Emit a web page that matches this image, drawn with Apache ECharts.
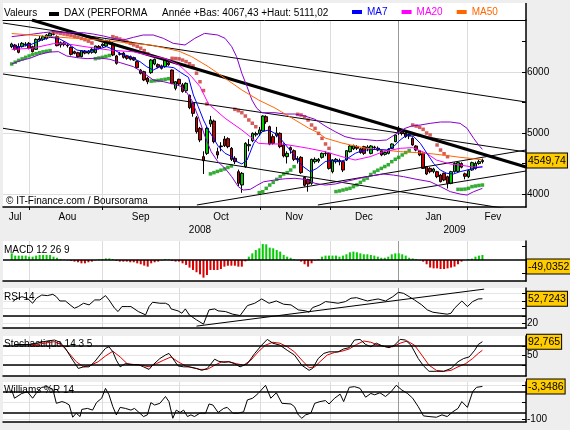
<!DOCTYPE html>
<html>
<head>
<meta charset="utf-8">
<script src="https://cdn.jsdelivr.net/npm/echarts@6/dist/echarts.min.js"></script>
<style>
html, body { margin: 0; padding: 0; background: #eeeeee; }
#chart { width: 570px; height: 430px; }
</style>
</head>
<body>
<div id="chart"></div>
<script>
// trading-day slots: 0..149, first candle on slot 2
const firstSlot = 2;
const candleOpen = [6415,6442,6415,6415,6448,6470,6415,6371,6524,6535,6551,6590,6623,6579,6442,6476,6440,6404,6333,6317,
  6251,6344,6310,6322,6317,6420,6430,6426,6497,6470,6262,6290,6310,6262,6251,6235,6170,6032,6005,5900,
  5989,6131,6120,6100,6087,6150,6032,5732,5880,5790,5694,5617,5486,5250,5076,4612,4666,5147,5196,4694,
  4787,4901,4907,4748,4585,4366,4148,4448,4790,4874,4970,4990,5032,5267,5103,4940,4960,4994,4803,4612,
  4760,4710,4560,4601,4273,4240,4175,4530,4540,4601,4660,4666,4366,4530,4550,4530,4557,4694,4740,4780,
  4740,4776,4750,4666,4770,4750,4710,4650,4666,4748,4858,5049,5021,4994,4950,4912,4787,4710,4666,4448,
  4420,4370,4366,4311,4339,4284,4175,4366,4370,4500,4330,4284,4393,4420,4500,4530];
const candleClose = [6459,6371,6322,6470,6459,6388,6333,6535,6545,6579,6606,6633,6617,6431,6480,6448,6430,6289,6306,6251,
  6349,6310,6344,6371,6426,6390,6455,6513,6470,6278,6142,6300,6240,6224,6210,6196,6070,5978,5869,5840,
  6196,6207,6080,6060,6196,6120,5814,5841,5803,5680,5814,5415,5322,5021,4885,4546,5076,5213,4858,4640,
  4776,4792,4776,4568,4530,4175,4339,4830,4810,4994,4990,5050,5278,5185,4819,4830,5000,4776,4623,4666,
  4721,4568,4580,4350,4142,4164,4568,4568,4568,4666,4670,4420,4557,4568,4530,4393,4710,4787,4790,4750,
  4680,4666,4770,4787,4760,4720,4640,4680,4732,4820,4967,5021,4994,4940,4960,4803,4721,4639,4420,4328,
  4366,4410,4284,4202,4229,4175,4366,4502,4514,4440,4290,4382,4514,4502,4530,4549.74];
const candleLow = [6390,6350,6306,6400,6420,6370,6320,6360,6500,6510,6530,6570,6600,6420,6400,6420,6400,6270,6290,6230,
  6240,6290,6290,6300,6300,6370,6410,6410,6450,6260,6120,6270,6220,6200,6190,6180,6050,5960,5850,5800,
  5970,6110,6060,6040,6070,6100,5800,5700,5780,5660,5660,5390,5267,4990,4850,4328,4640,5100,4830,4580,
  4700,4770,4750,4540,4490,4130,4020,4430,4700,4850,4940,4950,5020,5150,4800,4810,4930,4750,4600,4500,
  4660,4540,4500,4330,4120,4038,4150,4500,4510,4580,4620,4400,4339,4500,4470,4360,4540,4680,4720,4720,
  4660,4640,4700,4650,4730,4700,4620,4630,4650,4740,4850,4967,4960,4920,4900,4790,4700,4620,4410,4310,
  4340,4340,4260,4190,4210,4090,4160,4350,4350,4420,4240,4260,4380,4400,4480,4500];
const candleHigh = [6480,6460,6470,6490,6490,6490,6430,6550,6590,6600,6620,6650,6650,6600,6500,6500,6470,6420,6350,6330,
  6360,6360,6360,6390,6430,6440,6470,6530,6520,6490,6280,6330,6330,6280,6270,6250,6190,6050,6020,5920,
  6210,6220,6140,6120,6210,6170,6040,5850,5890,5820,5830,5630,5500,5280,5100,4700,5100,5280,5220,4760,
  4850,4950,4930,4770,4620,4400,4360,4850,4900,5010,5020,5100,5290,5290,5120,4980,5100,5010,4830,4700,
  4780,4730,4620,4620,4290,4250,4580,4600,4590,4680,4700,4680,4570,4590,4580,4540,4720,4800,4810,4800,
  4760,4790,4800,4800,4790,4780,4720,4700,4750,4830,4980,5114,5060,5010,4990,4930,4800,4720,4680,4460,
  4440,4430,4380,4330,4350,4300,4380,4520,4530,4520,4350,4400,4530,4530,4560,4580];

const ma7 = [[2,6426],[4.4,6415],[7.2,6442],[10.1,6513],[13,6568],[15.4,6551],[17.8,6480],[20.7,6360],[23.6,6333],
  [26.4,6371],[29.2,6415],[31.1,6371],[33.1,6306],[35.9,6251],[38.8,6169],[40.7,6087],[42.6,6032],[44.5,6087],
  [46.4,6087],[48.5,6070],[50.5,5990],[52.7,5912],[54.1,5623],[55.5,5431],[57,5213],[58.4,5049],[59.9,4912],
  [61.3,4776],[63.2,4666],[65.2,4612],[66.6,4530],[68,4492],[69.5,4557],[71.4,4830],[73.8,5021],[75.7,5049],
  [77.5,4994],[79.4,4885],[81.4,4748],[83.2,4612],[85.6,4448],[87.6,4366],[89.5,4420],[91.9,4530],[93.8,4557],
  [95.7,4530],[97.6,4557],[100.5,4666],[102,4700],[103.8,4721],[106.7,4732],[109.5,4721],[111.5,4776],
  [113.4,4885],[115.3,4967],[117.3,4940],[119.2,4830],[121.1,4666],[123,4502],[124.9,4393],[126.8,4339],
  [128.7,4328],[130.6,4366],[132.6,4393],[134.5,4420],[137,4450]];
const ma20 = [[2,6370],[8,6390],[14,6465],[18,6460],[23,6415],[30,6360],[37,6330],[42,6265],[46,6220],[50,6115],
  [53.6,5923],[56,5760],[58.4,5480],[63.2,5241],[68,5049],[72.8,4831],[75.7,4820],[79.6,4820],[83.2,4787],
  [87.1,4749],[91.9,4694],[96.7,4612],[100.5,4557],[104.8,4612],[108.6,4694],[113.4,4749],[117,4760],
  [121,4666],[123.8,4557],[127.8,4492],[130.6,4475],[133.5,4448],[137,4437]];
const ma50 = [[2,6630],[13,6580],[27,6525],[42,6440],[50,6340],[53.6,6251],[58.4,6087],[63.2,5896],[68,5705],
  [72.8,5541],[77.5,5410],[82.3,5246],[87.1,5082],[90,5000],[91.9,4918],[96.7,4836],[100.5,4787],[103.8,4749],
  [108.6,4721],[113.4,4694],[118.2,4678],[123,4656],[127.8,4623],[130.6,4601],[133.5,4585],[137,4560]];
const bandUpper = [[2,6579],[4.4,6595],[8.2,6622],[11.1,6644],[14,6661],[17.8,6644],[22.5,6644],[25.4,6622],
  [28.3,6590],[31.1,6551],[34,6524],[36.9,6568],[39.7,6606],[42.6,6606],[45.5,6551],[48.3,6470],[51.7,6442],
  [54.5,6551],[57.3,6633],[61.1,6606],[63.2,6551],[65.1,6415],[66.5,6251],[68,5978],[69.5,5759],[70.9,5541],
  [72.3,5404],[73.8,5333],[77.5,5333],[80.4,5311],[83.2,5311],[86.1,5278],[89,5224],[91.9,5114],[94.8,5021],
  [97.6,4940],[100.5,4902],[102.8,4896],[106.7,4874],[109.5,4885],[112.5,4994],[114.8,5076],[116.7,5114],
  [119.2,5131],[122,5158],[125,5180],[127.8,5180],[130.6,5158],[132.6,5076],[134.5,4912],[135.9,4803],[137,4732]];
const bandLower = [[2,6131],[4.4,6185],[7.2,6224],[10.1,6289],[13,6327],[15.4,6333],[17.8,6262],[20.7,6235],
  [23.6,6218],[27.3,6229],[30.2,6207],[33.1,6153],[36.9,6087],[39.7,5989],[42.6,5869],[45.5,5841],[48.3,5803],
  [50.3,5770],[51.7,5705],[53.6,5541],[55.5,5267],[57.3,4967],[59.2,4694],[61.1,4530],[63.2,4420],[65.1,4284],
  [67,4120],[68.4,4065],[70.4,4076],[72.3,4140],[74.2,4200],[77.5,4230],[80.4,4250],[83.2,4257],[86.1,4240],
  [89,4175],[91.9,4147],[94.8,4164],[97.6,4202],[100.5,4240],[103.8,4284],[108.6,4328],[111.5,4310],
  [114.4,4284],[118.2,4240],[122,4202],[125,4120],[127.8,4038],[130.6,3999],[132.6,3983],[134.5,4038],[137,4093]];

const sarRed = [[14,6650],[15,6644],[16,6633],[17,6622],[18,6611],[19,6600],[20,6585],[21,6570],[22,6550],[23,6530],[24,6505],[25,6475],
  [31,6579],[32,6560],[33,6540],[34,6518],[35,6495],[36,6470],[37,6445],[38,6420],[39,6390],[40,6350],[41,6300],
  [48,6224],[49,6220],[50,6215],[51,6195],[52,6170],[53,6135],[54,6100],[55,5980],[56,5840],[57,5695],[58,5475],
  [66,5388],[67,5366],[68,5333],[69,5278],[70,5213],[71,5160],[72,5103],
  [84,5306],[85,5295],[86,5267],[87,5213],[88,5131],[89,5076],[90,4994],[91,4912],[92,4820],[93,4748],
  [117,5131],[118,5114],[119,5093],[120,5060],[121,5000],[122,4967],[123,4896],[124,4803],[125,4721],[126,4660],[127,4612]];
const sarGreen = [[2,6131],[3,6160],[4,6190],[5,6215],[6,6240],[7,6262],[8,6285],[9,6300],[10,6315],[11,6330],[12,6340],[13,6350],
  [26,6218],[27,6229],[28,6240],[29,6255],[30,6270],
  [42,5850],[43,5855],[44,5862],[45,5870],[46,5880],[47,5890],
  [59,4330],[60,4350],[61,4370],[62,4390],[63,4410],[64,4435],[65,4460],
  [73,4022],[74,4038],[75,4093],[76,4147],[77,4191],[78,4240],[79,4284],[80,4328],[81,4350],[82,4393],[83,4448],
  [95,4040],[96,4050],[97,4065],[98,4080],[99,4093],[100,4120],[101,4150],[102,4190],[103,4230],[104,4260],[105,4320],
  [106,4360],[107,4390],[108,4420],[109,4450],[110,4480],[111,4530],[112,4570],[113,4600],[114,4640],[115,4680],[116,4710],
  [130,4076],[131,4076],[132,4080],[133,4093],[134,4120],[135,4131],[136,4140],[137,4147]];

const trendThin = [
  [[-0.5,6803],[149.5,5508]],
  [[-0.5,5967],[149.5,4689]],
  [[-0.5,5077],[149.5,3708]],
  [[55.1,3820],[149.5,4721]],
  [[89.8,3820],[149.5,4377]]
];
const trendThick = [[7.8,6852],[149.5,4443]];

const macdHist = [50,33,33,33,33,25,25,33,38,38,38,38,25,17,7,3,-3,-7,-12,-17,
  -25,-25,-17,-12,-3,5,7,12,12,7,-7,-12,-12,-12,-17,-17,-25,-32,-42,-50,
  -25,-17,-12,-3,7,5,-7,-12,-12,-25,-37,-57,-75,-92,-108,-133,-113,-75,-75,-75,
  -68,-50,-43,-43,-43,-50,-50,-10,25,50,75,88,120,118,93,88,75,63,38,25,
  17,7,-3,-12,-32,-50,-25,-3,7,25,33,33,33,33,25,33,43,58,63,58,
  50,43,43,38,33,25,17,17,25,43,50,50,43,33,17,12,7,-3,-12,-32,
  -57,-63,-63,-68,-68,-63,-57,-50,-32,-12,0,7,10,25,33,38];

const rsi = [[2.3,49],[3.3,52.5],[4.9,55.5],[6.5,53.4],[8,46.8],[9.1,53.4],[10.6,57.7],[12.2,56.9],[13.8,58.6],[14.8,55.5],
  [15.8,49.8],[17.4,49.8],[19,43.7],[20,40.2],[21.1,42.4],[22.6,46.8],[24.2,44.6],[25.8,51.2],[27.3,51.2],[28.9,56.9],
  [29.9,51.2],[31.5,40.2],[32.5,35.8],[33.6,42.4],[35.1,42.4],[36.2,42.4],[38.3,35.8],[40.4,31.4],[41.4,42.4],[42.4,48.1],
  [44.5,46.8],[46.1,46.8],[47.1,44.6],[47.7,39.3],[49.7,36.7],[50.8,33.6],[51.8,39.3],[52.9,31.4],[55,24.8],[57,19.1],
  [58.6,38],[60.2,39.3],[61.2,36.7],[63.3,35.8],[65.4,32.3],[67.5,30.5],[69.6,43.7],[71.7,46.8],[73.7,52.5],[75.8,46.8],
  [77.9,49.8],[80,45.5],[82.1,44.6],[84.2,38],[86.3,36.7],[87.3,34.9],[88.3,41.1],[90.4,44.6],[92,49],[93.6,48.1],
  [95.6,46.8],[97.7,49],[99.3,53.4],[100.9,54.2],[103,51.2],[104,49.8],[105.5,51.2],[107.1,52.5],[109.2,49.8],[111.3,55.5],
  [112.9,61.3],[114.4,59.9],[116,55.5],[117.5,51.2],[119.6,44.6],[121.2,38],[122.8,34.9],[124.8,33.6],[126.9,32.3],[128,33.6],
  [129,40.2],[131.1,49.8],[132.7,42.4],[134.2,49],[135.8,52.5],[137,52.72]];
const rsiTrend = [[55,16.5],[137.5,65.5]];

const stochK = [[2.8,84],[7,84],[9.1,88],[12.2,95],[14.3,98],[15.8,91],[17.4,72],[19.5,35],[21.1,9],[22.6,14],[24.2,14],
  [25.8,30],[27.3,51],[28.9,72],[29.9,77],[31,61],[32,35],[33.1,14],[34.6,24],[36.2,21],[38.3,21],[39.8,14],[41.4,6],
  [42.4,19],[44.5,40],[46.1,51],[47.1,56],[48.2,40],[49.7,17],[51.3,14],[52.9,14],[55,9],[56.5,3],[58.1,9],[60.2,38],
  [61.2,32],[62.8,28],[64.3,30],[65.9,24],[67.5,14],[69.6,24],[71.7,56],[73.7,82],[75.3,100],[76.9,88],[78.9,82],
  [81,66],[83.1,51],[85.2,19],[87.3,3],[88.3,9],[89.9,40],[91.5,56],[93,61],[95.6,61],[97.2,70],[98.8,74],[100.3,98],
  [101.9,100],[103.5,84],[105,77],[106.6,88],[108.2,80],[110.2,74],[111.8,82],[113.4,100],[114.9,98],[116.5,82],
  [118.6,40],[120.1,17],[121.7,0],[123.8,0],[125.9,0],[128,9],[130,30],[131.6,40],[133.2,45],[134.8,66],[135.8,84],[137,92.77]];
const stochD = [[2.8,84],[9.1,84],[14.3,93],[16.4,82],[18.5,56],[20.5,30],[22.6,14],[24.7,19],[26.8,30],[28.9,48],
  [31,63],[33.1,45],[35.1,24],[37.2,21],[39.3,19],[41.4,14],[43.5,24],[45.6,35],[47.7,45],[49.7,30],[51.8,17],[53.9,11],
  [56,6],[58.1,6],[60.2,19],[62.3,30],[64.3,30],[66.4,24],[68.5,19],[70.6,35],[72.7,61],[74.8,82],[76.9,91],[78.9,88],
  [81,77],[83.1,61],[85.2,35],[87.3,11],[88.9,14],[90.4,30],[92.5,51],[94.6,59],[96.7,63],[98.8,70],[100.9,84],[103,95],
  [105,91],[107.1,82],[109.2,77],[111.3,77],[113.4,88],[115.4,95],[117.5,82],[119.6,51],[121.7,19],[123.8,3],[125.9,0],
  [128,3],[130,14],[132.2,24],[134.2,40],[135.8,56],[137,66]];

const williams = [[2,-14],[2.8,-38],[4.9,-24],[6.5,-19],[8,-38],[9.1,-22],[10.6,-6],[12.2,-4],[13.8,-12],[14.8,-53],
  [16.4,-48],[17.4,-51],[18.5,-58],[19.5,-94],[20.5,-82],[21.6,-92],[22.1,-71],[23.7,-68],[25.2,-73],[26.3,-51],
  [27.8,-38],[28.9,-9],[29.9,-28],[31,-63],[32,-87],[33.1,-65],[34.6,-68],[36.2,-73],[37.2,-68],[38.3,-78],[39.8,-92],
  [40.9,-87],[41.9,-51],[43,-58],[44.5,-53],[46.1,-33],[47.1,-48],[48.2,-97],[49.2,-73],[50.3,-80],[51.3,-73],
  [52.4,-92],[53.4,-87],[54.4,-92],[56,-82],[57.6,-82],[58.6,-55],[59.7,-58],[61.2,-80],[62.8,-68],[63.8,-65],
  [65.4,-82],[67,-82],[68.5,-78],[69.6,-43],[71.1,-38],[72.7,-24],[74.8,0],[76.3,-38],[77.9,-22],[79.5,-53],
  [82.1,-55],[83.1,-63],[84.2,-87],[85.2,-97],[86.3,-87],[87.8,-82],[88.9,-53],[90.4,-48],[92,-45],[93,-55],
  [94.6,-38],[96.2,-26],[97.2,-48],[98.8,-6],[100.3,-4],[101.9,-9],[103.5,-35],[105,-24],[106.1,-28],[107.6,-22],
  [109.2,-33],[110.8,-19],[112.3,0],[113.9,-14],[115.5,-24],[117,-38],[118.6,-63],[120.1,-90],[121.7,-92],[123.8,-94],
  [125.4,-87],[126.9,-92],[128.5,-78],[130,-68],[131.1,-48],[132.7,-65],[134.2,-19],[135.3,-6],[137,-3.35]];

// axis texts
const monthTicks = [7, 28, 50, 73.2, 93.3, 112.8, 132.6];
const monthLabelPos = [3, 18, 39, 62, 83, 103, 123, 140];
const monthNames = ['Jul', 'Aou', 'Sep', 'Oct', 'Nov', 'Dec', 'Jan', 'Fev'];
const yearLabelPos = [56, 129];
const yearNames = ['2008', '2009'];
const lastValues = { price: 4549.74, macd: -49.0352, rsi: 52.7243, stoch: 92.765, williams: -3.3486 };

const FONT = 'Liberation Sans';
const chart = echarts.init(document.getElementById('chart'));

const commaNum = v => String(v).replace('.', ',');
const valueRich = {
  p: { fontSize: 10, fontFamily: FONT, color: '#000' },
  b: { fontSize: 10.5, fontFamily: FONT, color: '#000', backgroundColor: '#ffcc00',
       borderColor: '#000', borderWidth: 1, padding: [2, 1, 1, 1] }
};
function boxLabels(plain, boxVal) {
  return {
    customValues: plain.concat([boxVal]),
    margin: 1,
    formatter: v => (v === boxVal ? '{b|' + commaNum(v) + '}' : '{p|' + v + '}'),
    rich: valueRich
  };
}

const vLineColors = ['#dcdcdc', '#dcdcdc', '#dcdcdc', '#dcdcdc', '#dcdcdc', '#999999', '#dcdcdc'];
function slotAxis(gi, withLabels) {
  return {
    type: 'value', gridIndex: gi, min: -0.5, max: 149.5, position: 'bottom',
    axisLine: { onZero: false, lineStyle: { color: '#000', width: 1.5 } },
    axisTick: { show: withLabels, customValues: monthTicks, length: 3, lineStyle: { color: '#000' } },
    axisLabel: withLabels
      ? { customValues: monthLabelPos, formatter: v => monthNames[monthLabelPos.indexOf(v)],
          color: '#000', fontSize: 10, fontFamily: FONT, margin: 5 }
      : { show: false },
    splitLine: { show: true, lineStyle: { color: vLineColors, width: 1 } }
  };
}
function levelAxis(gi, min, max, ticks, labels, faint) {
  return {
    type: 'value', gridIndex: gi, position: 'right', min: min, max: max,
    axisLine: { show: true, onZero: false, lineStyle: { color: '#000', width: 1.5 } },
    axisTick: { show: true, inside: true, length: 4, customValues: ticks, lineStyle: { color: '#000' } },
    axisLabel: labels,
    splitLine: { show: faint, lineStyle: { color: '#e6e6e6' } }
  };
}
const levelLine = vals => ({
  silent: true, symbol: ['none', 'none'], label: { show: false },
  lineStyle: { color: '#000', width: 1.5, type: 'solid' }, emphasis: { disabled: true },
  data: vals.map(v => ({ yAxis: v }))
});
const gridBase = { left: 3, right: 44, show: true, backgroundColor: '#fff', borderWidth: 0, outerBoundsMode: 'none' };
const lineSeries = (name, data, color, width, xi, yi) => ({
  name: name, type: 'line', data: data, xAxisIndex: xi || 0, yAxisIndex: yi || 0,
  symbol: 'none', showSymbol: false, color: color, lineStyle: { width: width, color: color },
  silent: true, emphasis: { disabled: true }
});

const series = [];
trendThin.forEach(t => series.push(lineSeries('trend', t, '#000', 1)));
series.push(lineSeries('trend', trendThick, '#000', 3));
series.push(lineSeries('BBsup', bandUpper, '#8800cc', 1));
series.push(lineSeries('BBinf', bandLower, '#8800cc', 1));
series.push(lineSeries('MA50', ma50, '#ff6600', 1));
series.push(lineSeries('MA20', ma20, '#ff00ff', 1));
series.push(lineSeries('MA7', ma7, '#0000ff', 1));
series.push({
  name: 'DAX', type: 'candlestick', xAxisIndex: 0, yAxisIndex: 0, barWidth: 3,
  encode: { x: 0, y: [1, 2, 3, 4] },
  data: candleOpen.map((o, i) => [firstSlot + i, o, candleClose[i], candleLow[i], candleHigh[i]]),
  itemStyle: { color: '#00cc00', color0: '#cc0000', borderColor: '#000', borderColor0: '#000', borderWidth: 1 },
  silent: true
});
series.push({ name: 'SARr', type: 'scatter', data: sarRed, symbol: 'rect', symbolSize: 3.5,
  itemStyle: { color: '#cc3333' }, silent: true });
series.push({ name: 'SARg', type: 'scatter', data: sarGreen, symbol: 'rect', symbolSize: 3.5,
  itemStyle: { color: '#009900' }, silent: true });
series.push({
  name: 'MACD', type: 'bar', xAxisIndex: 3, yAxisIndex: 2, barWidth: 2,
  data: macdHist.map((v, i) => [firstSlot + i, v]),
  itemStyle: { color: p => (p.value[1] >= 0 ? '#00cc00' : '#dd0000') },
  markLine: levelLine([0]), silent: true
});
series.push(Object.assign(lineSeries('RSI', rsi, '#000', 1, 4, 3), { markLine: levelLine([30]) }));
series.push(lineSeries('RSItrend', rsiTrend, '#000', 1, 4, 3));
series.push(Object.assign(lineSeries('%D', stochD, '#dd0000', 1, 5, 4), { markLine: levelLine([20, 80]) }));
series.push(lineSeries('%K', stochK, '#000', 1, 5, 4));
series.push(Object.assign(lineSeries('W%R', williams, '#000', 1, 6, 5), { markLine: levelLine([-20, -80]) }));

const txt = (x, y, s) => ({ type: 'text', x: x, y: y, z: 1,
  style: { text: s, font: '10px "' + FONT + '"', fill: '#000', verticalAlign: 'middle' } });

chart.setOption({
  animation: false,
  backgroundColor: '#eeeeee',
  textStyle: { fontFamily: FONT },
  grid: [
    Object.assign({ top: 20, height: 187 }, gridBase),
    Object.assign({ top: 241, height: 40 }, gridBase),
    Object.assign({ top: 288, height: 40 }, gridBase),
    Object.assign({ top: 336, height: 40 }, gridBase),
    Object.assign({ top: 382, height: 40 }, gridBase)
  ],
  xAxis: [
    slotAxis(0, true),
    { type: 'value', gridIndex: 0, min: -0.5, max: 149.5, position: 'bottom', offset: 13,
      axisLine: { show: false }, axisTick: { show: false }, splitLine: { show: false },
      axisLabel: { customValues: yearLabelPos, formatter: v => yearNames[yearLabelPos.indexOf(v)],
                   color: '#000', fontSize: 10, fontFamily: FONT, margin: 5 } },
    { type: 'value', gridIndex: 0, min: -0.5, max: 149.5, position: 'top',
      axisLine: { onZero: false, lineStyle: { color: '#000', width: 1 } },
      axisTick: { show: false }, axisLabel: { show: false }, splitLine: { show: false } },
    slotAxis(1, false), slotAxis(2, false), slotAxis(3, false), slotAxis(4, false)
  ],
  yAxis: [
    Object.assign(levelAxis(0, 3787, 6852, [4000, 5000, 6000], boxLabels([4000, 5000, 6000], lastValues.price), true),
      { splitLine: { show: true, lineStyle: { color: '#dddddd' } } }),
    Object.assign(levelAxis(0, 3787, 6852, [4500, 5500, 6500], { show: false }, false), { axisLine: { show: false, onZero: false } }),
    levelAxis(1, -158, 143, [-100, 100], boxLabels([], lastValues.macd), false),
    levelAxis(2, 14, 67, [20, 30, 40, 50, 60], boxLabels([20], lastValues.rsi), true),
    levelAxis(3, -14.7, 110.6, [20, 50, 80], boxLabels([50], lastValues.stoch), true),
    levelAxis(4, -108, 9.7, [-100, -50, 0], boxLabels([-100], lastValues.williams), true)
  ],
  legend: {
    left: 352, top: 7, padding: 0, icon: 'rect', itemWidth: 10, itemHeight: 4, itemGap: 14,
    selectedMode: false, textStyle: { fontSize: 10, fontFamily: FONT },
    data: [
      { name: 'MA7', textStyle: { color: '#0000ff' } },
      { name: 'MA20', textStyle: { color: '#ff00ff' } },
      { name: 'MA50', textStyle: { color: '#ff6600' } }
    ]
  },
  graphic: [
    { type: 'rect', z: 0, shape: { x: 3, y: 3, width: 523, height: 17 }, style: { fill: '#fff' } },
    { type: 'line', z: 1, shape: { x1: 526, y1: 3, x2: 526, y2: 20 }, style: { stroke: '#000', lineWidth: 1.5 } },
    txt(4, 13, 'Valeurs'),
    { type: 'rect', z: 1, shape: { x: 49, y: 12, width: 10, height: 4 }, style: { fill: '#000' } },
    txt(64, 13, 'DAX (PERFORMA'),
    txt(162, 13, 'Année +Bas: 4067,43 +Haut: 5111,02'),
    txt(6, 201, '\u00a9 IT-Finance.com / Boursorama'),
    txt(4, 250, 'MACD 12 26 9'),
    txt(4, 297, 'RSI 14'),
    txt(4, 344, 'Stochastique 14 3 5'),
    txt(4, 390, 'Williams %R 14')
  ],
  series: series
});
</script>
</body>
</html>
